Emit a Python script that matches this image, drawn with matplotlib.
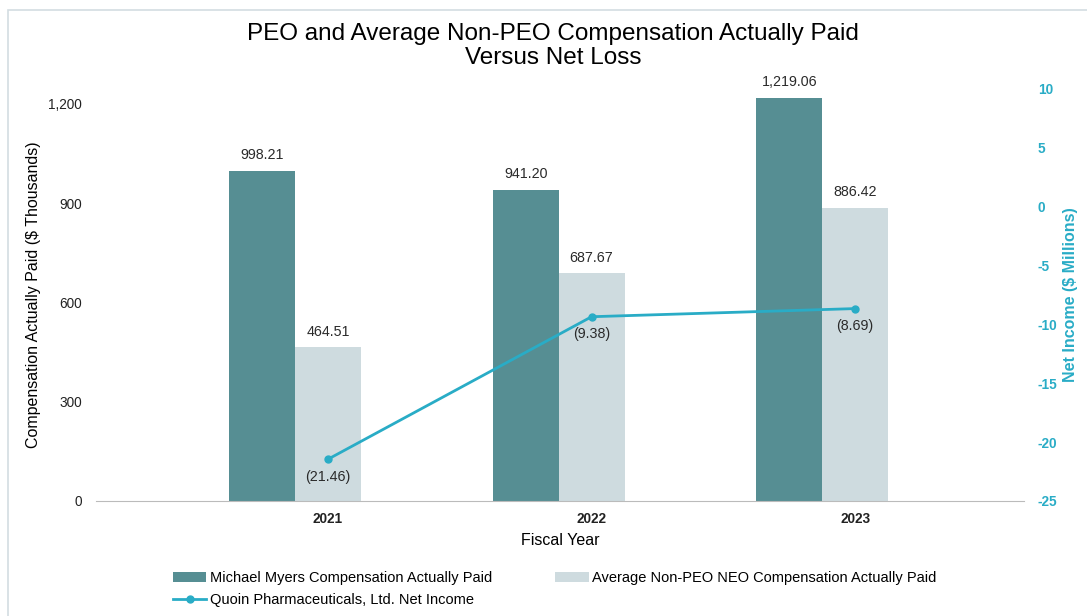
import numpy as np
import matplotlib.pyplot as plt
from matplotlib.patches import Rectangle

plt.rcParams['font.family'] = ['Liberation Sans', 'DejaVu Sans']
plt.rcParams['axes.unicode_minus'] = False

years = ['2021', '2022', '2023']
peo_cap = [998.21, 941.20, 1219.06]
non_peo_cap = [464.51, 687.67, 886.42]
net_income = [-21.46, -9.38, -8.69]

peo_labels = ['998.21', '941.20', '1,219.06']
non_peo_labels = ['464.51', '687.67', '886.42']
ni_labels = ['(21.46)', '(9.38)', '(8.69)']

dark = '#568E93'
light = '#CEDBDF'
teal = '#29ACC6'

fig = plt.figure(figsize=(10.87, 6.16), dpi=100)
ax = fig.add_axes([0.0883, 0.1867, 0.8537, 0.6703])
ax2 = ax.twinx()

# frame around the chart
fig.patches.append(Rectangle((8 / 1087, -0.1), 1.2, 1 - 10 / 616 + 0.1,
                             transform=fig.transFigure, fill=False,
                             edgecolor='#D3DDE2', linewidth=1.2, zorder=0))

x = np.arange(len(years))
w = 0.25
b1 = ax.bar(x - w, peo_cap, w, color=dark, label='Michael Myers Compensation Actually Paid')
b2 = ax.bar(x, non_peo_cap, w, color=light, label='Average Non-PEO NEO Compensation Actually Paid')

for xi, v, t in zip(x - w, peo_cap, peo_labels):
    ax.text(xi, v + 25, t, ha='center', va='bottom', fontsize=10.3, color='#2a2a2a')
for xi, v, t in zip(x, non_peo_cap, non_peo_labels):
    ax.text(xi, v + 25, t, ha='center', va='bottom', fontsize=10.3, color='#2a2a2a')

ax.set_xlim(-0.88, 2.64)
ax.set_ylim(0, 1248)
ax.set_yticks([0, 300, 600, 900, 1200])
ax.set_yticklabels(['0', '300', '600', '900', '1,200'])
ax.set_xticks(x)
ax.set_xticklabels(years, fontweight='bold')
ax.tick_params(axis='both', length=0, labelsize=9.8, colors='#222222')
ax.tick_params(axis='y', pad=10)
ax.tick_params(axis='x', pad=8)
for s in ['top', 'right', 'left']:
    ax.spines[s].set_visible(False)
ax.spines['bottom'].set_color('#BBBBBB')
ax.set_ylabel('Compensation Actually Paid ($ Thousands)', fontsize=11.5, labelpad=5)
ax.set_xlabel('Fiscal Year', fontsize=11.5, labelpad=5)

l1, = ax2.plot(x, net_income, color=teal, linewidth=2, marker='o', markersize=5,
               label='Quoin Pharmaceuticals, Ltd. Net Income')
for xi, v, t in zip(x, net_income, ni_labels):
    ax2.text(xi, v - 0.9, t, ha='center', va='top', fontsize=10.3, color='#2a2a2a')
ax2.set_ylim(-25, 10)
ax2.set_yticks(range(-25, 11, 5))
ax2.tick_params(axis='y', length=0, labelsize=9.8, colors=teal, pad=10)
for lab in ax2.get_yticklabels():
    lab.set_fontweight('bold')
for s in ['top', 'right', 'left', 'bottom']:
    ax2.spines[s].set_visible(False)
ax2.set_ylabel('Net Income ($ Millions)', fontsize=11.5, color=teal, fontweight='bold', labelpad=4)

fig.suptitle('PEO and Average Non-PEO Compensation Actually Paid\nVersus Net Loss',
             x=0.509, y=0.962, fontsize=17.5, linespacing=1.1)

fig.legend(handles=[b1, l1, b2], ncol=2, loc='upper left',
           bbox_to_anchor=(0.147, 0.094), frameon=False, fontsize=10.5,
           handlelength=2.3, handletextpad=0.25, columnspacing=4.3,
           labelspacing=0.55)

fig.savefig('out.png', dpi=100)
